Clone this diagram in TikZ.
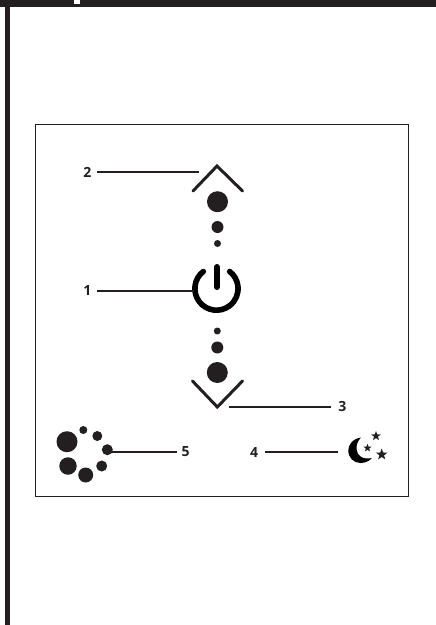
\documentclass[tikz,border=0pt]{standalone}
\usepackage{fontspec}
\setmainfont{Open Sans}
\usetikzlibrary{positioning,shapes.geometric}
\definecolor{ink}{HTML}{231F20}

\begin{document}
\begin{tikzpicture}[
x=1pt, y=-1pt,
dot/.style={circle, fill=ink, inner sep=0pt, outer sep=0pt},
numlabel/.style={text=ink, font=\bfseries\fontsize{14}{14}\selectfont, inner sep=0pt, minimum width=20pt, outer sep=0pt},
leader/.style={draw=ink, line width=2pt},
chevron/.style={draw=ink, line width=3pt, line cap=round, line join=miter},
powerline/.style={draw=black, line cap=round},
starmark/.style={star, star points=5, star point ratio=2.4, fill=ink, inner sep=0pt, outer sep=0pt}
]

\useasboundingbox (0,0) rectangle (436,625);

% page edge
\fill[ink] (0,0) rectangle (436,7);
\fill[white] (74,0) rectangle (80,4);
\fill[ink] (5,7) rectangle (10,625);

% panel
\node[draw=ink, line width=0.8pt, minimum width=373pt, minimum height=372pt, inner sep=0pt] (panel) at (221.5,310) {};

% up side
\coordinate (uptip) at (217,166);
\draw[chevron] (193,191) -- (uptip) -- (242.5,191);
\node[dot, minimum size=21pt] (bigup) at (217.5,201.7) {};
\node[dot, minimum size=12pt, below=8.8pt of bigup] (midup) {};
\node[dot, minimum size=7pt, below=7pt of midup] (smallup) {};

% power
\coordinate (power) at (216.9,288.5);
\draw[powerline, line width=5.6pt] (203.3,271.5) arc[start angle=-127.6, end angle=-412.4, radius=21.6];
\draw[powerline, line width=6pt] (216.9,267) -- (216.9,287);

% down side
\node[dot, minimum size=7pt] (smalldown) at (217.3,331) {};
\node[dot, minimum size=12pt, below=7pt of smalldown] (middown) {};
\node[dot, minimum size=21pt, below=8.5pt of middown] (bigdown) {};
\coordinate (downtip) at (217.3,407);
\draw[chevron] (192.5,381) -- (downtip) -- (242.5,381);

% busy ring
\node[dot, minimum size=21pt] (ringa) at (67,441.7) {};
\node[dot, minimum size=8pt] (ringb) at (83.3,430) {};
\node[dot, minimum size=10pt] (ringc) at (97.3,436) {};
\node[dot, minimum size=11pt] (ringd) at (107.3,449.7) {};
\node[dot, minimum size=11pt] (ringe) at (101.7,466) {};
\node[dot, minimum size=15pt] (ringf) at (85.7,475) {};
\node[dot, minimum size=17.5pt] (ringg) at (68,466) {};

% moon
\fill[black] (361,437.5) .. controls (352,439) and (348.3,445) .. (348.3,450.5) .. controls (348.3,458) and (354,463) .. (360.5,463) .. controls (365,463) and (369.5,461) .. (372,458) .. controls (363,460) and (357,456) .. (356.5,449) .. controls (356.3,444.5) and (358,440.5) .. (361,437.5) -- cycle;
\node[starmark, minimum size=10pt] (stara) at (376,436) {};
\node[starmark, minimum size=8.5pt] (starb) at (367.5,448) {};
\node[starmark, minimum size=12pt] (starc) at (381.7,454.5) {};

% numbers
\node[numlabel] (one) at (87.3,290.5) {1};
\node[numlabel] (two) at (87.3,172) {2};
\node[numlabel, minimum width=23pt] (three) at (342.3,406.5) {3};
\node[numlabel, minimum width=22pt] (four) at (254,452) {4};
\node[numlabel, minimum width=17pt] (five) at (185.7,452) {5};

\coordinate (twoend) at (199,172);
\coordinate (oneend) at (194,290.5);
\coordinate (threeend) at (228.5,406.5);
\coordinate (fourend) at (337.5,452);
\coordinate (fiveend) at (107.3,452);

\draw[leader] (two) -- (twoend);
\draw[leader] (one) -- (oneend);
\draw[leader] (three) -- (threeend);
\draw[leader] (four) -- (fourend);
\draw[leader] (five) -- (fiveend);

\end{tikzpicture}
\end{document}
